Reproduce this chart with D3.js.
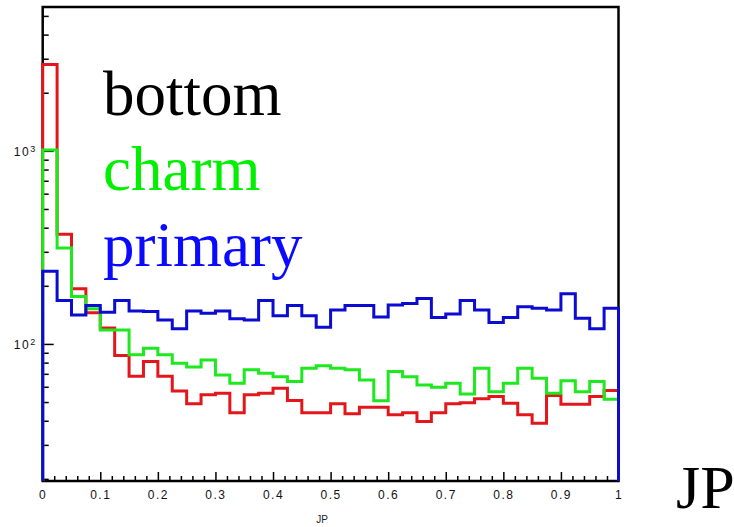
<!DOCTYPE html>
<html>
<head>
<meta charset="utf-8">
<script src="https://cdn.jsdelivr.net/npm/d3@7"></script>
<style>
  body { margin: 0; background: #fff; }
  svg { display: block; }
</style>
</head>
<body>
<svg></svg>
<script>
const WIDTH = 734;
const HEIGHT = 527;
const MARGINS = { left: 42.7, top: 7, right: 115.5, bottom: 46 };
const graphWidth = WIDTH - MARGINS.left - MARGINS.right;
const graphHeight = HEIGHT - MARGINS.top - MARGINS.bottom;

// 40 bins of JP between 0 and 1
const BIN_WIDTH = 0.025;
const bottom = [2800, 370, 193, 145, 121, 87, 68, 81, 68, 57, 49, 54.5, 55.5, 44, 54.5, 55.5, 59, 51, 44, 44,
  49, 43.5, 47, 47, 43, 44, 39.6, 44, 49, 49.6, 52, 53.4, 49.3, 43, 38.8, 54, 48.7, 48.7, 53.4, 57.3];
const charm = [1010, 314, 176, 152, 118, 118, 88, 95, 88, 79.5, 76, 82.6, 69, 62.6, 73.4, 70.5, 67.7, 63.8, 74.8, 77,
  74.8, 73.4, 65, 50.8, 72, 67.7, 61.3, 59.6, 62.6, 55, 74.8, 56.6, 62.6, 74.8, 66.4, 55.5, 64.5, 56.6, 63.8, 51.7];
const primary = [238, 168, 141, 158, 146, 168, 148, 147, 133, 120, 148, 144, 148, 135, 133, 168, 140, 158, 140, 122,
  150, 158, 158, 138, 159, 162, 172, 137, 143, 168, 150, 129, 137, 156, 153, 150, 182, 136, 120, 153];

const SERIES = [
  { name: 'bottom', values: bottom, line: '#e3161c', text: '#000000' },
  { name: 'charm', values: charm, line: '#1ee81e', text: '#00f000' },
  { name: 'primary', values: primary, line: '#0b0bd2', text: '#0a0aff' },
];

const X_TICKS = [0, 0.1, 0.2, 0.3, 0.4, 0.5, 0.6, 0.7, 0.8, 0.9, 1];
const Y_TICKS = [100, 1000];
const Y_MIN = 19.5;
const Y_MAX = 5560;

const svg = d3.select('svg').attr('width', WIDTH).attr('height', HEIGHT);

const graph = svg
  .append('g')
  .attr('transform', `translate(${MARGINS.left}, ${MARGINS.top})`);

const x = d3.scaleLinear().domain([0, 1]).range([0, graphWidth]);
const y = d3.scaleLog().domain([Y_MIN, Y_MAX]).range([graphHeight, 0]);

// frame
graph
  .append('rect')
  .attr('width', graphWidth)
  .attr('height', graphHeight)
  .attr('fill', 'none')
  .attr('stroke', '#000')
  .attr('stroke-width', 2.5);

// x axis: major + minor ticks pointing inwards
const xMinor = d3.range(0, 51).map((i) => i * 0.02).filter((v) => Math.round(v * 50) % 5 !== 0);
const xAxisGroup = graph.append('g').attr('transform', `translate(0, ${graphHeight})`);
xAxisGroup.call(
  d3.axisBottom(x).tickValues(X_TICKS).tickSizeInner(-9).tickSizeOuter(0).tickPadding(9)
    .tickFormat((d) => (d === 0 || d === 1 ? String(d) : d.toFixed(1)))
);
const xMinorGroup = graph.append('g').attr('transform', `translate(0, ${graphHeight})`);
xMinorGroup.call(d3.axisBottom(x).tickValues(xMinor).tickSizeInner(-5).tickSizeOuter(0).tickFormat(''));

// y axis (log)
const yMinor = [];
[10, 100, 1000].forEach((dec) => {
  for (let k = 2; k <= 9; k++) {
    const v = dec * k;
    if (v >= Y_MIN && v <= Y_MAX) yMinor.push(v);
  }
});
const yAxisGroup = graph.append('g');
yAxisGroup.call(
  d3.axisLeft(y).tickValues(Y_TICKS).tickSizeInner(-11).tickSizeOuter(0).tickPadding(6).tickFormat('')
);
const yMinorGroup = graph.append('g');
yMinorGroup.call(d3.axisLeft(y).tickValues(yMinor).tickSizeInner(-6).tickSizeOuter(0).tickFormat(''));

[xAxisGroup, xMinorGroup, yAxisGroup, yMinorGroup].forEach((g) => {
  g.select('.domain').remove();
  g.selectAll('.tick line').attr('stroke', '#000').attr('stroke-width', 1.5);
  g.selectAll('.tick text')
    .attr('fill', '#111')
    .attr('font-family', 'Arial, "Liberation Sans", sans-serif')
    .attr('font-size', 12)
    .attr('letter-spacing', 1.5);
});

yAxisGroup.selectAll('.tick text').each(function (d) {
  const t = d3.select(this).attr('dy', '0.35em');
  t.append('tspan').text('10');
  t.append('tspan').attr('dy', '-0.45em').attr('font-size', 9).text(Math.round(Math.log10(d)));
});

// histograms as step outlines, closed down to the axis at both ends
const line = d3.line().x((d) => x(d[0])).y((d) => y(d[1]));
const histPoints = (values) => {
  const pts = [[0, Y_MIN]];
  values.forEach((v, i) => {
    pts.push([i * BIN_WIDTH, v]);
    pts.push([(i + 1) * BIN_WIDTH, v]);
  });
  pts.push([values.length * BIN_WIDTH, Y_MIN]);
  return pts;
};

graph
  .selectAll('path.hist')
  .data(SERIES)
  .enter()
  .append('path')
  .attr('class', 'hist')
  .attr('d', (d) => line(histPoints(d.values)))
  .attr('fill', 'none')
  .attr('stroke', (d) => d.line)
  .attr('stroke-width', 3)
  .attr('stroke-linejoin', 'miter');

// legend words
const LEGEND_Y = [115, 190, 266];
svg
  .selectAll('text.legend')
  .data(SERIES)
  .enter()
  .append('text')
  .attr('class', 'legend')
  .attr('x', 103)
  .attr('y', (d, i) => LEGEND_Y[i])
  .attr('fill', (d) => d.text)
  .attr('font-family', '"Liberation Serif", "Times New Roman", serif')
  .attr('font-size', 63)
  .text((d) => d.name);

// axis titles
svg
  .append('text')
  .attr('x', 322)
  .attr('y', 523)
  .attr('text-anchor', 'middle')
  .attr('fill', '#222')
  .attr('font-family', 'Arial, "Liberation Sans", sans-serif')
  .attr('font-size', 10)
  .text('JP');

svg
  .append('text')
  .attr('x', 676)
  .attr('y', 508)
  .attr('fill', '#000')
  .attr('font-family', '"Liberation Serif", "Times New Roman", serif')
  .attr('font-size', 62)
  .text('JP');
</script>
</body>
</html>
